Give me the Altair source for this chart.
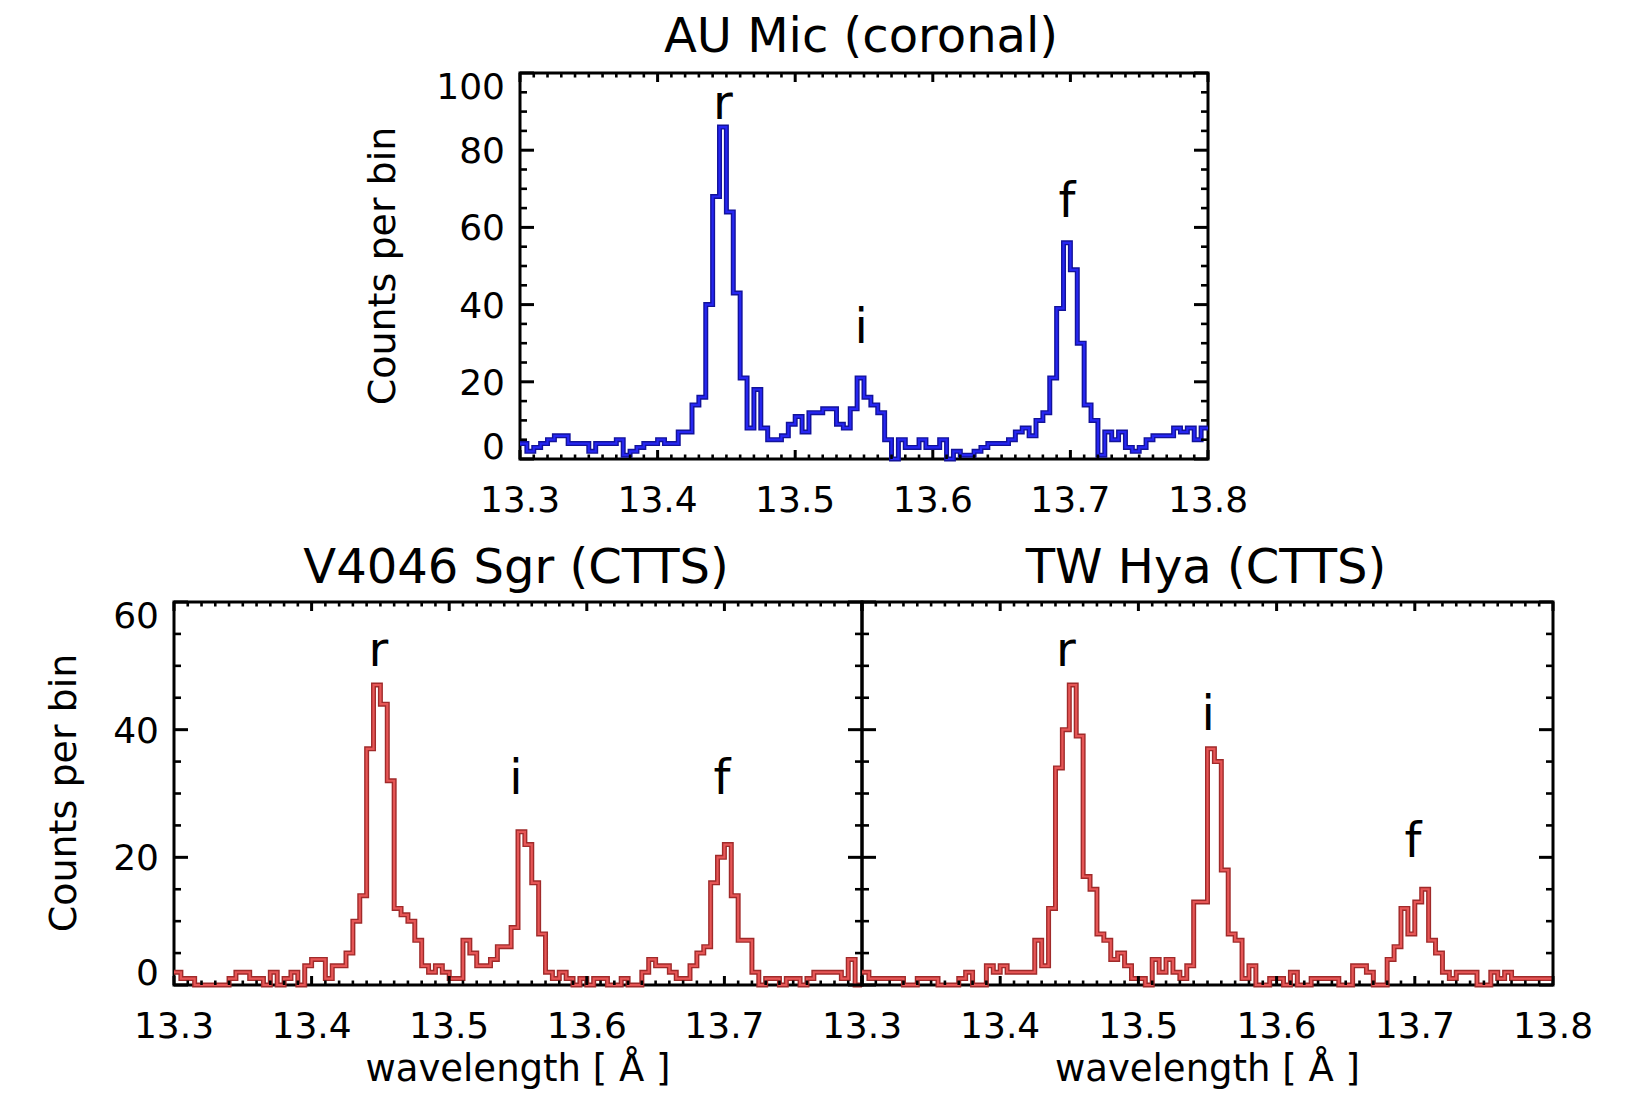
import altair as alt
import pandas as pd
import numpy as np

FONT = "DejaVu Sans"

# ---- data (counts per 0.005 A bin, 13.300 - 13.800 A) ----
WL_START = 13.3
WL_STEP = 0.005
au_mic = [4, 2, 3, 4, 5, 6, 6, 4, 4, 4,
          2, 4, 4, 4, 5, 1, 2, 3, 4, 4,
          5, 4, 4, 7, 7, 14, 16, 40, 68, 86,
          64, 43, 21, 8, 18, 8, 5, 5, 6, 9,
          11, 7, 12, 12, 13, 13, 9, 8, 13, 21,
          16, 14, 12, 5, 0, 5, 3, 3, 5, 3,
          3, 5, 0, 2, 1, 1, 2, 3, 4, 4,
          4, 5, 7, 8, 6, 10, 12, 21, 39, 56,
          49, 30, 14, 10, 1, 7, 5, 7, 3, 2,
          3, 5, 6, 6, 6, 8, 7, 8, 5, 8]
v4046 = [2, 1, 1, 0, 0, 0, 0, 0, 1, 2,
         2, 1, 1, 0, 2, 0, 1, 2, 0, 3,
         4, 4, 1, 3, 3, 5, 10, 14, 37, 47,
         44, 32, 12, 11, 10, 7, 3, 2, 3, 2,
         1, 1, 7, 5, 3, 3, 4, 6, 6, 9,
         24, 22, 16, 8, 2, 1, 2, 1, 0, 1,
         0, 1, 1, 0, 0, 1, 0, 0, 2, 4,
         3, 3, 2, 1, 1, 3, 5, 6, 16, 20,
         22, 14, 7, 7, 2, 0, 1, 1, 0, 1,
         1, 0, 1, 2, 2, 2, 2, 1, 4, 0]
tw_hya = [2, 1, 1, 1, 1, 1, 0, 0, 1, 1,
          1, 0, 0, 0, 1, 2, 0, 0, 3, 2,
          3, 2, 2, 2, 2, 7, 3, 12, 34, 40,
          47, 39, 17, 15, 8, 7, 4, 5, 3, 1,
          1, 0, 4, 2, 4, 2, 1, 3, 13, 13,
          37, 35, 18, 8, 7, 1, 3, 0, 0, 1,
          1, 0, 2, 0, 0, 1, 1, 1, 1, 0,
          0, 3, 3, 2, 0, 0, 4, 6, 12, 8,
          13, 15, 7, 5, 2, 1, 2, 2, 2, 0,
          0, 2, 1, 2, 1, 1, 1, 1, 1, 1]

line_labels = ["r", "i", "f"]
au_label_x = [13.4475, 13.548, 13.6975]
au_label_y = [88, 30, 62.6]
v4046_label_x = [13.4486, 13.5485, 13.6983]
v4046_label_y = [50, 30, 30]
tw_label_x = [13.4476, 13.5504, 13.6987]
tw_label_y = [50, 40, 20]

titles = ["AU Mic (coronal)", "V4046 Sgr (CTTS)", "TW Hya (CTTS)"]
y_title = "Counts per bin"
x_title = "wavelength [ Å ]"
x_tick_labels = [13.3, 13.4, 13.5, 13.6, 13.7, 13.8]
y_ticks_top = [0, 20, 40, 60, 80, 100]
y_ticks_bottom = [0, 20, 40, 60]
X_DOMAIN = [13.3, 13.8]

# ---- layout (pixels inside the chart) ----
W_TOT, H_TOT = 1615, 1082
one = pd.DataFrame({"k": [0]})


def hist_df(counts):
    edges = [round(WL_START + WL_STEP * k, 4) for k in range(len(counts) + 1)]
    return pd.DataFrame({"wl": edges, "c": list(counts) + [counts[-1]]})


def text_at(txt, x, y, size, angle=0):
    kw = dict(text=txt, font=FONT, fontSize=size, align="center",
              baseline="alphabetic", color="black")
    if angle:
        kw["angle"] = angle
    return alt.Chart(one).mark_text(**kw).encode(x=alt.value(x), y=alt.value(y))


def panel(counts, box, ymax, y_vals, x_vals, colors, lab_x, lab_y,
          title, title_x, title_y, y_title_pos, y_lab_right, x_lab_base, xt_base):
    x0, x1, y0, y1 = box
    xs = alt.Scale(domain=X_DOMAIN, range=[x0, x1], nice=False, zero=False)
    ys = alt.Scale(domain=[0, ymax], range=[y1, y0], nice=False, zero=False)

    def X(f):
        return alt.X(f, scale=xs, axis=None)

    def Y(f):
        return alt.Y(f, scale=ys, axis=None)

    layers = []
    # plot box
    layers.append(alt.Chart(one).mark_rect(filled=False, stroke="black", strokeWidth=3).encode(
        x=alt.value(x0), x2=alt.value(x1), y=alt.value(y0), y2=alt.value(y1)))

    # histogram (dark outline + bright core)
    df = hist_df(counts)
    layers.append(alt.Chart(df).mark_line(interpolate="step-after", color=colors[0],
                                          strokeWidth=5, strokeJoin="miter").encode(
        x=X("wl:Q"), y=Y("c:Q")))
    layers.append(alt.Chart(df).mark_line(interpolate="step-after", color=colors[1],
                                          strokeWidth=2.2, strokeJoin="miter").encode(
        x=X("wl:Q"), y=Y("c:Q")))

    # r / i / f line identifications
    notes = pd.DataFrame({"x": lab_x, "y": lab_y, "t": line_labels})
    layers.append(alt.Chart(notes).mark_text(font=FONT, fontSize=48, baseline="alphabetic",
                                             align="center", color="black").encode(
        x=X("x:Q"), y=Y("y:Q"), text="t:N"))

    # inward tick marks on all four sides
    y_minor = [v for v in np.arange(0, ymax + 0.001, 5)
               if all(abs(v - m) > 1e-6 for m in y_vals)]
    x_major = [round(v, 2) for v in np.arange(13.3, 13.8001, 0.1)]
    x_minor = [round(v, 2) for v in np.arange(13.3, 13.8001, 0.01)]
    x_minor = [v for v in x_minor if all(abs(v - m) > 1e-6 for m in x_major)]
    for vals, L, sw in ((list(y_vals), 14, 3), (y_minor, 7, 2.6)):
        base = alt.Chart(pd.DataFrame({"v": vals})).mark_rule(color="black", strokeWidth=sw)
        layers.append(base.encode(y=Y("v:Q"), x=alt.value(x0), x2=alt.value(x0 + L)))
        layers.append(base.encode(y=Y("v:Q"), x=alt.value(x1), x2=alt.value(x1 - L)))
    for vals, L, sw in ((x_major, 9, 3), (x_minor, 4.5, 2.6)):
        base = alt.Chart(pd.DataFrame({"v": vals})).mark_rule(color="black", strokeWidth=sw)
        layers.append(base.encode(x=X("v:Q"), y=alt.value(y1), y2=alt.value(y1 - L)))
        layers.append(base.encode(x=X("v:Q"), y=alt.value(y0), y2=alt.value(y0 + L)))

    # x tick labels
    layers.append(alt.Chart(pd.DataFrame({"v": x_vals})).mark_text(
        font=FONT, fontSize=36, baseline="alphabetic", align="center", color="black").encode(
        x=X("v:Q"), y=alt.value(x_lab_base), text=alt.Text("v:Q", format=".1f")))

    # y tick labels (first / last flush with the box) and y title
    if y_title_pos is not None:
        groups = ((y_vals[1:-1], 13), (y_vals[-1:], 26), (y_vals[:1], 0))
        for vals, dy in groups:
            layers.append(alt.Chart(pd.DataFrame({"v": vals})).mark_text(
                font=FONT, fontSize=36, baseline="alphabetic", align="right",
                color="black", dy=dy).encode(
                y=Y("v:Q"), x=alt.value(y_lab_right), text=alt.Text("v:Q", format="d")))
        layers.append(text_at(y_title, y_title_pos[0], y_title_pos[1], 38, angle=270))

    if xt_base is not None:
        layers.append(text_at(x_title, (x0 + x1) / 2, xt_base, 37))

    layers.append(text_at(title, title_x, title_y, 48))
    return layers


blue = ("#12129a", "#2626f2")
red = ("#a02a2a", "#e65656")

layers = []
layers += panel(au_mic, (512, 1200, 65, 451), 100, y_ticks_top, x_tick_labels, blue,
                au_label_x, au_label_y, titles[0], 853, 44,
                (387, 258), 497, 504, None)
layers += panel(v4046, (166, 854, 594, 977), 60, y_ticks_bottom, x_tick_labels[:-1], red,
                v4046_label_x, v4046_label_y, titles[1], 508, 575,
                (68, 785), 151, 1030, 1073)
layers += panel(tw_hya, (854, 1545, 594, 977), 60, y_ticks_bottom, x_tick_labels, red,
                tw_label_x, tw_label_y, titles[2], 1198, 575,
                None, 0, 1030, 1073)

chart = alt.layer(*layers).resolve_scale(x="independent", y="independent").properties(
    width=W_TOT, height=H_TOT, padding=0, background="white",
    autosize=alt.AutoSizeParams(type="none")
).configure_view(stroke="transparent", strokeWidth=0)

chart.save("out.html", embed_options={"renderer": "svg", "actions": False})
